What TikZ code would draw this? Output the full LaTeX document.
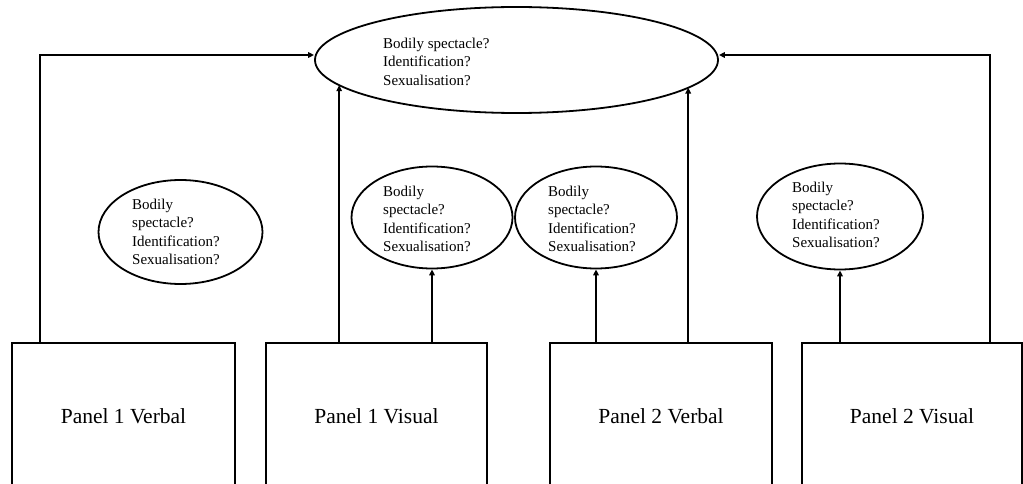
\documentclass[tikz,border=0pt]{standalone}
\usepackage{fontspec}
\setmainfont{Liberation Serif}
\usetikzlibrary{shapes.geometric,arrows.meta,calc}
\begin{document}
\begin{tikzpicture}[x=1pt,y=-1pt,
  panelbox/.style={draw,line width=1.6pt,rectangle,minimum height=146pt,inner sep=0pt,font=\fontsize{21.5}{26}\selectfont},
  oval/.style={draw,line width=1.8pt,ellipse,inner sep=0pt},
  qtext/.style={anchor=west,align=left,inner sep=0pt,font=\fontsize{15}{18.5}\selectfont},
  arr/.style={line width=1.6pt,-{Triangle[length=6pt,width=5.5pt]}}]
\useasboundingbox (0,0) rectangle (1023,484);
% panels
\node[panelbox,minimum width=223pt] (b1) at (123.5,416) {Panel 1 Verbal};
\node[panelbox,minimum width=221pt] (b2) at (376.5,416) {Panel 1 Visual};
\node[panelbox,minimum width=222pt] (b3) at (661,416) {Panel 2 Verbal};
\node[panelbox,minimum width=220pt] (b4) at (912,416) {Panel 2 Visual};
% ellipses
\node[oval,minimum width=403pt,minimum height=106pt] (top) at (516.5,60) {};
\node[oval,minimum width=164pt,minimum height=104pt] (e1) at (180.5,232) {};
\node[oval,minimum width=161pt,minimum height=102pt] (e2) at (432,217.5) {};
\node[oval,minimum width=162pt,minimum height=102pt] (e3) at (596,217.5) {};
\node[oval,minimum width=166pt,minimum height=106pt] (e4) at (840,216.5) {};
% texts
\node[qtext] (t0) at (383,61.5) {Bodily spectacle?\\Identification?\\Sexualisation?};
\node[qtext] (t1) at (132,232) {Bodily\\spectacle?\\Identification?\\Sexualisation?};
\node[qtext] (t2) at (383,219) {Bodily\\spectacle?\\Identification?\\Sexualisation?};
\node[qtext] (t3) at (548,219) {Bodily\\spectacle?\\Identification?\\Sexualisation?};
\node[qtext] (t4) at (792,215) {Bodily\\spectacle?\\Identification?\\Sexualisation?};
% connectors
\draw[arr] ($(b1.north west)+(29,0)$) |- ($(top.west)+(0,-5)$);
\draw[arr] ($(b4.north west)+(189,0)$) |- ($(top.east)+(0,-5)$);
\draw[arr] ($(b2.north west)+(74,0)$) coordinate (s2) -- (s2 |- top.188.3);
\draw[arr] ($(b3.north west)+(139,0)$) coordinate (s3) -- (s3 |- top.351);
\draw[arr] (e2.south |- b2.north) -- (e2.south);
\draw[arr] (e3.south |- b3.north) -- (e3.south);
\draw[arr] (e4.south |- b4.north) -- (e4.south);
\end{tikzpicture}
\end{document}
